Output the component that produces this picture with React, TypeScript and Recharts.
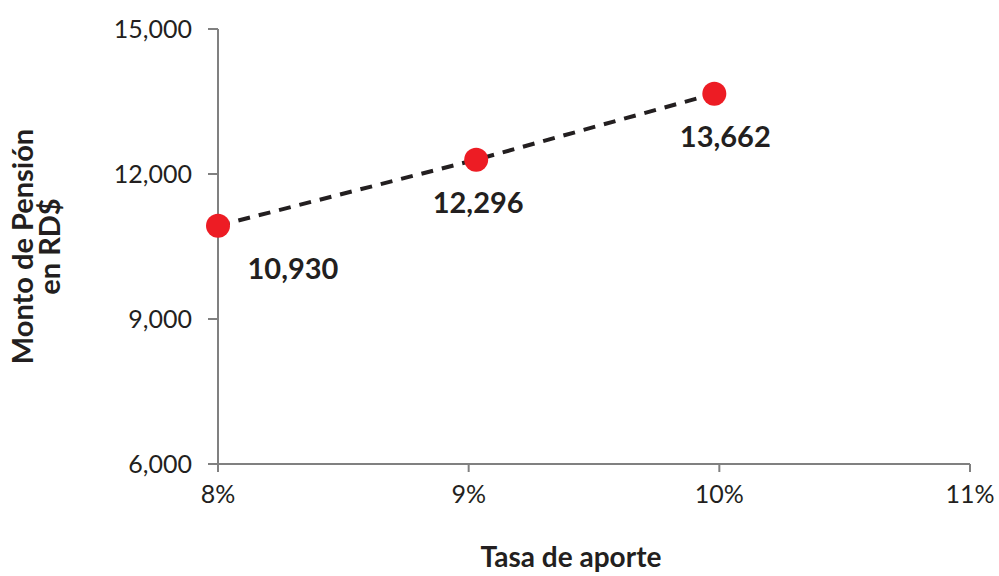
import { LineChart, Line, XAxis, YAxis, LabelList } from "recharts";

// Tasa de aporte (%) and the resulting pension amount (RD$)
const tasas = [8, 9.03, 9.98];
const montos = [10930, 12296, 13662];
const xTicks = [8, 9, 10, 11];
const yTicks = [6000, 9000, 12000, 15000];

const data = tasas.map((t, i) => ({ tasa: t, monto: montos[i] }));

const FONT = "Lato, 'Noto Sans', sans-serif";
const INK = "#231f20";
const AXIS = "#808080";

// label offsets relative to each dot (first one pushed right of the axis)
const labelDx = [75, 2, 11];

const renderValueLabel = (props: any) => {
  const { x, y, value, index } = props;
  return (
    <text
      x={x + labelDx[index]}
      y={y + 53}
      textAnchor="middle"
      fill={INK}
      fontFamily={FONT}
      fontWeight={700}
      fontSize={29}
    >
      {Number(value).toLocaleString("en-US")}
    </text>
  );
};

const renderYLabel = (props: any) => {
  const vb = props.viewBox;
  const cy = vb.y + vb.height / 2;
  return (
    <g fill={INK} fontFamily={FONT} fontWeight={700} fontSize={29}>
      <text x={33} y={cy} textAnchor="middle" transform={`rotate(-90, 33, ${cy})`}>
        Monto de Pensión
      </text>
      <text x={60} y={cy} textAnchor="middle" transform={`rotate(-90, 60, ${cy})`}>
        en RD$
      </text>
    </g>
  );
};

const renderXLabel = (props: any) => {
  const vb = props.viewBox;
  return (
    <text
      x={vb.x + vb.width / 2 - 23}
      y={567}
      textAnchor="middle"
      fill={INK}
      fontFamily={FONT}
      fontWeight={700}
      fontSize={28}
    >
      Tasa de aporte
    </text>
  );
};

export default function App() {
  return (
    <div style={{ position: "absolute", left: 0, top: 0, background: "#fff" }}>
      <LineChart
        width={999}
        height={576}
        data={data}
        margin={{ top: 29, right: 29, bottom: 0, left: 0 }}
      >
        <XAxis
          dataKey="tasa"
          type="number"
          domain={[8, 11]}
          ticks={xTicks}
          tickFormatter={(v) => `${v}%`}
          height={112}
          tickSize={8}
          tickMargin={13}
          stroke={AXIS}
          strokeWidth={2}
          tick={{ fill: INK, fontSize: 25, fontFamily: FONT }}
          label={{ content: renderXLabel }}
        />
        <YAxis
          type="number"
          domain={[6000, 15000]}
          ticks={yTicks}
          tickFormatter={(v) => Number(v).toLocaleString("en-US")}
          width={218}
          tickSize={10}
          tickMargin={16}
          stroke={AXIS}
          strokeWidth={2}
          tick={{ fill: INK, fontSize: 25, fontFamily: FONT }}
          label={{ content: renderYLabel }}
        />
        <Line
          dataKey="monto"
          type="linear"
          stroke={INK}
          strokeWidth={4}
          strokeDasharray="12 9"
          dot={{ r: 12, fill: "#ed1c24", stroke: "none" }}
          activeDot={false}
          isAnimationActive={false}
        >
          <LabelList dataKey="monto" content={renderValueLabel} />
        </Line>
      </LineChart>
    </div>
  );
}
